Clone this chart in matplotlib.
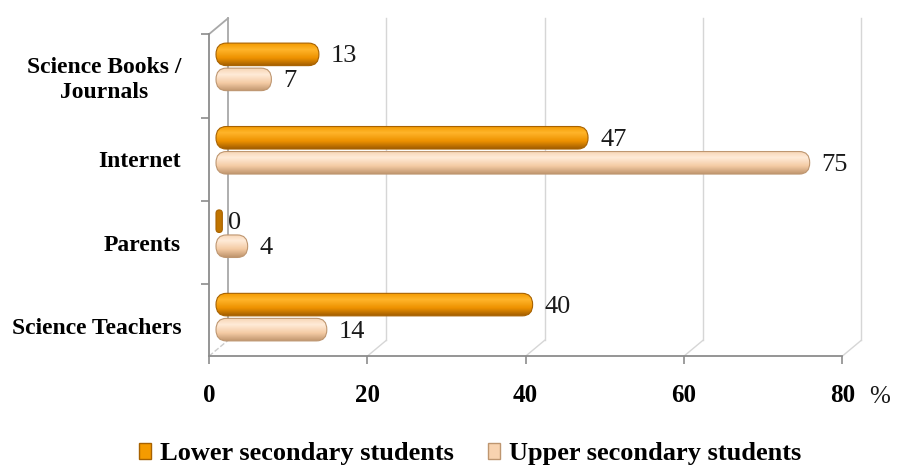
import numpy as np
import matplotlib
matplotlib.use("Agg")
import matplotlib.pyplot as plt
import matplotlib.transforms as mtransforms
from matplotlib.patches import FancyBboxPatch, Patch
from matplotlib.colors import LinearSegmentedColormap

plt.rcParams['font.family'] = ['Liberation Serif', 'DejaVu Serif']

# data (bottom -> top)
categories = ["Science Teachers", "Parents", "Internet", "Science Books /\nJournals"]
lower = [40, 0, 47, 13]   # Lower secondary students
upper = [14, 4, 75, 7]    # Upper secondary students
series_names = ["Lower secondary students", "Upper secondary students"]
xticks = [0, 20, 40, 60, 80]

# colours: (main, dark edge) + vertical gradient for the cylinder look
c_lower = ("#F59B00", "#A86200")
c_upper = ("#F8D3B0", "#BE9670")
g_lower = LinearSegmentedColormap.from_list(
    "lo", [(0, "#A05C00"), (0.35, "#EE9200"), (0.72, "#FFB52A"), (1, "#F39A00")])
g_upper = LinearSegmentedColormap.from_list(
    "up", [(0, "#C0966E"), (0.35, "#F4CBA4"), (0.72, "#FFEBD8"), (1, "#F7D5B4")])

fig = plt.figure(figsize=(8.97, 4.68), dpi=100)
ax = fig.add_axes([0.233, 0.239, 0.706, 0.688])
ax.set_xlim(0, 80)
ax.set_ylim(-0.36, 3.5)

def shift(dx, dy):
    # offset in pixels (dpi 100) on top of data coords
    return ax.transData + mtransforms.ScaledTranslation(dx / 100, dy / 100, fig.dpi_scale_trans)

# ---- fake 3d frame -----
y0, y1 = ax.get_ylim()
dxd, dyd = 2.4, 0.19          # depth in data units
wall = "#d6d6d6"
for x in xticks[1:]:
    ax.plot([x + dxd, x + dxd], [y0 + dyd, y1 + dyd], color=wall, lw=1, clip_on=False, zorder=0)
    ax.plot([x, x + dxd], [y0, y0 + dyd], color=wall, lw=1, clip_on=False, zorder=0)
ax.plot([dxd, dxd], [y0 + dyd, y1 + dyd], color="#a8a8a8", lw=1.3, clip_on=False, zorder=0)
ax.plot([0, dxd], [y1, y1 + dyd], color="#a8a8a8", lw=1.3, clip_on=False, zorder=0)
ax.plot([0, dxd], [y0, y0 + dyd], color="#cccccc", lw=1, ls="--", clip_on=False, zorder=0)

# ---- bars -----
h = 0.27
pos = np.arange(len(categories))
bar_tr = shift(7, 9)
grad = np.linspace(0, 1, 64).reshape(-1, 1)

def round_bars(rects, cols, cmap):
    for r in rects:
        x, y = r.get_x(), r.get_y()
        w, hh = r.get_width(), r.get_height()
        r.set_visible(False)
        wd = max(w, 0.8)
        rs = min(1.3, wd / 2)
        asp = (hh / 2) / 1.3
        body = FancyBboxPatch((x, y), wd, hh, boxstyle=f"round,pad=0,rounding_size={rs}",
                              mutation_aspect=asp, facecolor="none", edgecolor=cols[1],
                              lw=0.8, transform=bar_tr, zorder=4)
        ax.add_patch(body)
        if w < 1:
            body.set_facecolor("#C07400")
            continue
        im = ax.imshow(grad, cmap=cmap, origin="lower", aspect="auto",
                       extent=(x, x + wd, y, y + hh), transform=bar_tr, zorder=3)
        im.set_clip_path(body)

b1 = ax.barh(pos + 0.15, lower, h, transform=bar_tr)
b2 = ax.barh(pos - 0.15, upper, h, transform=bar_tr)
round_bars(b1, c_lower, g_lower)
round_bars(b2, c_upper, g_upper)
ax.set_xlim(0, 80)
ax.set_ylim(-0.36, 3.5)

for p, v in zip(pos, lower):
    ax.text(v, p + 0.15, str(v), transform=shift(19, 7), fontsize=19,
            va="center", ha="left", color="#1a1a1a", zorder=5)
for p, v in zip(pos, upper):
    ax.text(v, p - 0.15, str(v), transform=shift(19, 7), fontsize=19,
            va="center", ha="left", color="#1a1a1a", zorder=5)

# ---- axes styling -----
for s in ["top", "right"]:
    ax.spines[s].set_visible(False)
for s in ["left", "bottom"]:
    ax.spines[s].set_color("#8c8c8c")
    ax.spines[s].set_linewidth(1.3)

ax.set_xticks(xticks)
ax.set_xticklabels([str(t) for t in xticks], fontsize=18, fontweight="bold")
ax.tick_params(axis="x", length=6, width=1.2, color="#8c8c8c", pad=14, direction="out")

ax.set_yticks(pos)
ax.set_yticklabels(categories, fontsize=17, fontweight="bold")
for lab in ax.get_yticklabels():
    lab.set_multialignment("center")
ax.set_yticks(pos + 0.5, minor=True)
ax.tick_params(axis="y", which="major", length=0, pad=20)
ax.tick_params(axis="y", which="minor", length=6, width=1.2, color="#8c8c8c", direction="out")

fig.text(880 / 897, 1 - 397 / 468, "%", fontsize=18, ha="center", va="center", color="#1a1a1a")

handles = [Patch(facecolor=c_lower[0], edgecolor=c_lower[1]),
           Patch(facecolor=c_upper[0], edgecolor=c_upper[1])]
fig.legend(handles, series_names, loc="center", bbox_to_anchor=(0.524, 0.03), ncol=2,
           frameon=False, prop={"size": 19, "weight": "bold"}, handlelength=0.45,
           handleheight=0.55, handletextpad=0.35, columnspacing=1.3)

fig.savefig("out.png", dpi=100)
